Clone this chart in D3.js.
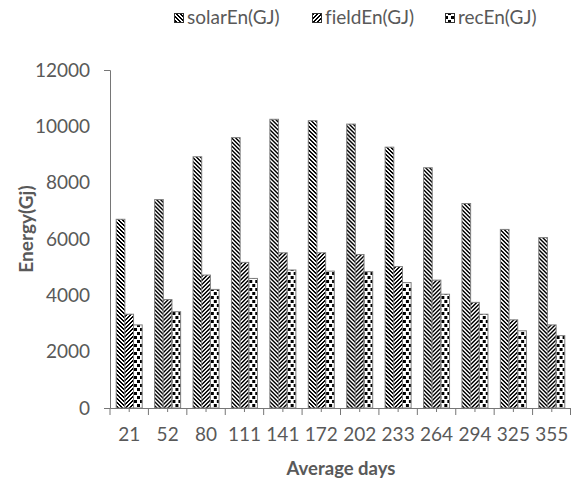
<!DOCTYPE html>
<html>
<head>
<meta charset="utf-8">
<script src="https://cdn.jsdelivr.net/npm/d3@7"></script>
<style>
  body { margin: 0; background: #fff; }
  text { font-family: Lato, "Liberation Sans", sans-serif; font-variant-ligatures: none; }
</style>
</head>
<body>
<svg id="chart" width="571" height="483"></svg>
<script>
// Average day of each month and energy collected at each stage (GJ)
const days = ["21", "52", "80", "111", "141", "172", "202", "233", "264", "294", "325", "355"];
const solarEn = [6700, 7400, 8920, 9600, 10250, 10200, 10080, 9260, 8530, 7260, 6340, 6050];
const fieldEn = [3330, 3850, 4720, 5170, 5510, 5510, 5450, 5020, 4540, 3750, 3130, 2950];
const recEn   = [2950, 3420, 4210, 4600, 4900, 4860, 4840, 4450, 4040, 3330, 2740, 2570];
const seriesNames = ["solarEn(GJ)", "fieldEn(GJ)", "recEn(GJ)"];
const yTicks = [0, 2000, 4000, 6000, 8000, 10000, 12000];

const seriesValues = [solarEn, fieldEn, recEn];
const patternIds = ["pat-down", "pat-up", "pat-dots"];

const svg = d3.select("#chart");
const textColor = "#595959";
const axisColor = "#767676";
const barStroke = "#7f7f7f";

// ---- fill patterns ----
const defs = svg.append("defs");
function pattern(id, w, h, rects) {
  const p = defs.append("pattern")
    .attr("id", id)
    .attr("patternUnits", "userSpaceOnUse")
    .attr("width", w).attr("height", h);
  p.append("rect").attr("width", w).attr("height", h).attr("fill", "#fff");
  rects.forEach(r => p.append("rect")
    .attr("x", r[0]).attr("y", r[1]).attr("width", r[2]).attr("height", r[3])
    .attr("fill", "#000").attr("shape-rendering", "crispEdges"));
}
// wide downward diagonal (\)
pattern("pat-down", 4, 4, [[0,0,2,1],[1,1,2,1],[2,2,2,1],[3,3,1,1],[0,3,1,1]]);
// wide upward diagonal (/)
pattern("pat-up", 4, 4, [[2,0,2,1],[1,1,2,1],[0,2,2,1],[0,3,1,1],[3,3,1,1]]);
// large dots
pattern("pat-dots", 6, 8, [[0,0,3,3],[3,4,3,3]]);

// ---- scales ----
const x = d3.scaleBand().domain(days).range([110, 571]).padding(0);
const groupWidth = 26;
const inner = d3.scaleBand().domain(seriesNames)
  .range([(x.bandwidth() - groupWidth) / 2, (x.bandwidth() + groupWidth) / 2]);
const y = d3.scaleLinear().domain([0, 12000]).range([408, 70]);

// ---- bars ----
const groups = svg.append("g").selectAll("g")
  .data(days)
  .join("g")
  .attr("transform", d => `translate(${x(d)},0)`);

groups.selectAll("rect")
  .data((d, i) => seriesNames.map((s, k) => ({ s, k, v: seriesValues[k][i] })))
  .join("rect")
  .attr("x", d => inner(d.s))
  .attr("y", d => y(d.v))
  .attr("width", inner.bandwidth())
  .attr("height", d => y(0) - y(d.v))
  .attr("fill", d => `url(#${patternIds[d.k]})`)
  .attr("stroke", barStroke)
  .attr("stroke-width", 1);

// ---- y axis ----
const yAxis = svg.append("g")
  .attr("transform", "translate(110,0)")
  .call(d3.axisLeft(y).tickValues(yTicks).tickFormat(d3.format("d"))
    .tickSizeInner(0).tickSizeOuter(6).tickPadding(20));
yAxis.select(".domain").attr("stroke", axisColor);
yAxis.selectAll("text").attr("fill", textColor).attr("font-size", 19);

// ---- x axis ----
const xAxis = svg.append("g")
  .attr("transform", "translate(0,408)")
  .call(d3.axisBottom(x).tickSizeInner(4).tickSizeOuter(0).tickPadding(16));
xAxis.select(".domain").attr("stroke", axisColor);
xAxis.selectAll(".tick line").attr("stroke", axisColor);
xAxis.selectAll("text").attr("fill", textColor).attr("font-size", 19);

// category boundary ticks
const bounds = days.map(d => x(d)).concat([x.range()[1] - 0.5]);
xAxis.selectAll(".bound")
  .data(bounds)
  .join("line")
  .attr("class", "bound")
  .attr("x1", d => d).attr("x2", d => d)
  .attr("y1", 0).attr("y2", 7)
  .attr("stroke", axisColor);

// ---- axis titles ----
svg.append("text")
  .attr("x", 341).attr("y", 475)
  .attr("text-anchor", "middle")
  .attr("font-weight", "bold").attr("font-size", 18.5)
  .attr("fill", textColor)
  .text("Average days");

svg.append("text")
  .attr("transform", "translate(33,229) rotate(-90)")
  .attr("text-anchor", "middle")
  .attr("font-weight", "bold").attr("font-size", 19)
  .attr("fill", textColor)
  .text("Energy(Gj)");

// ---- legend ----
const legendX = [174, 312, 445];
const legend = svg.append("g").selectAll("g")
  .data(seriesNames)
  .join("g")
  .attr("transform", (d, i) => `translate(${legendX[i]},0)`);
legend.append("rect")
  .attr("x", 0.5).attr("y", 13.5)
  .attr("width", 9).attr("height", 9)
  .attr("fill", (d, i) => `url(#${patternIds[i]})`)
  .attr("stroke", "#333").attr("stroke-width", 1);
legend.append("text")
  .attr("x", 13).attr("y", 24)
  .attr("font-size", 19)
  .attr("fill", textColor)
  .text(d => d);
</script>
</body>
</html>
